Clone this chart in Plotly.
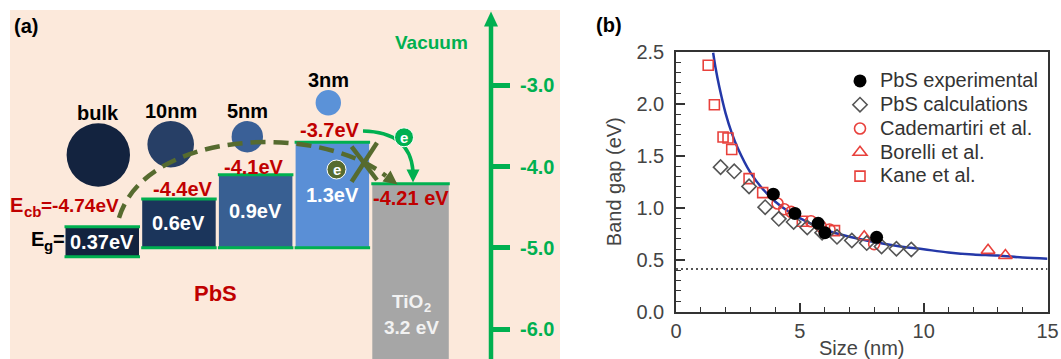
import plotly.graph_objects as go

W, H = 1061, 359
FONT = "Liberation Sans, Arial, sans-serif"

# ---------------- Panel (a) data ----------------
size_labels = ["bulk", "10nm", "5nm", "3nm"]
cb_energy = [-4.74, -4.4, -4.1, -3.7]          # conduction band edge (eV)
band_gap = [0.37, 0.6, 0.9, 1.3]               # band gap (eV)
tio2_cb = -4.21
tio2_gap = 3.2
vac_ticks = [-3.0, -4.0, -5.0, -6.0]
vac_tick_text = ["-3.0", "-4.0", "-5.0", "-6.0"]

# ---------------- Panel (b) data ----------------
exp_size = [3.93, 4.80, 5.74, 6.01, 8.10]
exp_gap = [1.13, 0.945, 0.85, 0.76, 0.715]
calc_size = [1.8, 2.35, 2.95, 3.6, 4.15, 4.75, 5.3, 5.9, 6.5, 7.1, 7.7, 8.3, 8.9, 9.5]
calc_gap = [1.39, 1.35, 1.205, 1.005, 0.893, 0.863, 0.81, 0.76, 0.72, 0.685, 0.66, 0.627, 0.605, 0.598]
cad_size = [4.1, 4.37, 4.65, 5.45, 5.85, 6.2, 8.0]
cad_gap = [1.04, 0.985, 0.96, 0.87, 0.82, 0.79, 0.65]
bor_size = [7.6, 12.6, 13.3]
bor_gap = [0.72, 0.59, 0.54]
kane_size = [1.3, 1.55, 1.9, 2.1, 2.25, 2.95, 3.5, 5.1, 6.4]
kane_gap = [2.37, 1.99, 1.68, 1.67, 1.56, 1.28, 1.145, 0.87, 0.78]
fit_size = [1.5, 1.6, 1.75, 2.0, 2.25, 2.5, 3.0, 3.5, 4.0, 4.5, 5.0, 6.0, 7.0, 8.0,
            9.0, 10.0, 11.0, 12.0, 13.0, 14.0, 15.0]
fit_gap = [2.49, 2.34, 2.16, 1.91, 1.72, 1.57, 1.34, 1.18, 1.06, 0.97, 0.90, 0.79, 0.72, 0.67,
           0.63, 0.60, 0.57, 0.55, 0.54, 0.52, 0.51]
bulk_gap = 0.41
x_ticks_b = [0, 5, 10, 15]

# ---------------- styles ----------------
GREEN = "#00b050"
RED = "#c00000"
OLIVE = "#566b2f"
PEACH = "#fce9db"
box_colors = ["#13233f", "#1b355b", "#385f92", "#5a8fd6"]
circle_colors = ["#13233f", "#273f66", "#3a6097", "#5b92d8"]
circle_centers = [(98.3, 155.0), (170.7, 144.3), (247.3, 136.7), (328.3, 102.7)]
circle_r = [31.7, 23.3, 15.7, 12.7]
box_left0, box_stride, box_w = 65.5, 76.7, 73.5
MRED = "#e8413c"


def py(y):
    return 1 - y / H


def pt(x, y):
    return f"{x:.2f},{py(y):.4f}"


fig = go.Figure()

# invisible anchor trace for panel (a) axes
box_centers = [box_left0 + i * box_stride + box_w / 2 for i in range(len(cb_energy))]
fig.add_trace(go.Scatter(x=box_centers, y=cb_energy, mode="markers",
                         marker=dict(opacity=0), xaxis="x", yaxis="y",
                         showlegend=False, hoverinfo="skip"))

shapes = []
# peach background
shapes.append(dict(type="rect", xref="x", yref="paper", x0=10, x1=560, y0=0, y1=py(10),
                   fillcolor=PEACH, line=dict(width=0), layer="below"))

# nanoparticle circles
for (cx, cy), r, c in zip(circle_centers, circle_r, circle_colors):
    shapes.append(dict(type="circle", xref="x", yref="paper", x0=cx - r, x1=cx + r,
                       y0=py(cy + r), y1=py(cy - r), fillcolor=c, line=dict(width=0)))

# PbS boxes
for i, (cb, eg) in enumerate(zip(cb_energy, band_gap)):
    x0 = box_left0 + i * box_stride
    x1 = x0 + box_w
    shapes.append(dict(type="rect", xref="x", yref="y", x0=x0, x1=x1, y0=cb - eg, y1=cb,
                       fillcolor=box_colors[i], line=dict(width=0)))
    for yy in (cb, cb - eg):
        shapes.append(dict(type="line", xref="x", yref="y", x0=x0 - 1, x1=x1 + 1, y0=yy, y1=yy,
                           line=dict(color=GREEN, width=3)))
# TiO2 box
tx0 = box_left0 + 4 * box_stride
tx1 = tx0 + 76.5
shapes.append(dict(type="rect", xref="x", yref="y", x0=tx0, x1=tx1, y0=tio2_cb - tio2_gap, y1=tio2_cb,
                   fillcolor="#a6a6a6", line=dict(width=0)))
shapes.append(dict(type="line", xref="x", yref="y", x0=tx0 - 1, x1=tx1 + 1, y0=tio2_cb, y1=tio2_cb,
                   line=dict(color=GREEN, width=3)))

# vacuum axis line + arrowhead
shapes.append(dict(type="line", xref="x", yref="paper", x0=491, x1=491, y0=0, y1=py(24),
                   line=dict(color=GREEN, width=4.5)))
shapes.append(dict(type="path", xref="x", yref="paper",
                   path=f"M {pt(491, 11.5)} L {pt(484, 26.5)} L {pt(498, 26.5)} Z",
                   fillcolor=GREEN, line=dict(width=0)))

# dashed olive arc (blocked transfer)
shapes.append(dict(type="path", xref="x", yref="paper",
                   path=f"M {pt(119, 218)} C {pt(145, 130)} {pt(318, 122)} {pt(386, 176)}",
                   line=dict(color=OLIVE, width=4.5, dash="15px,8px")))
shapes.append(dict(type="path", xref="x", yref="paper",
                   path=f"M {pt(397.5, 184.5)} L {pt(382.5, 181.5)} L {pt(390.5, 170.5)} Z",
                   fillcolor=OLIVE, line=dict(width=0)))
# X cross
shapes.append(dict(type="line", xref="x", yref="paper", x0=351.6, y0=py(181.7), x1=377, y1=py(142.7),
                   line=dict(color=OLIVE, width=4.5)))
shapes.append(dict(type="line", xref="x", yref="paper", x0=351.6, y0=py(146.7), x1=377, y1=py(180),
                   line=dict(color=OLIVE, width=4.5)))

# green electron-transfer arrow
shapes.append(dict(type="path", xref="x", yref="paper",
                   path=f"M {pt(363, 131)} Q {pt(410, 132)} {pt(413, 171)}",
                   line=dict(color=GREEN, width=3.5)))
shapes.append(dict(type="path", xref="x", yref="paper",
                   path=f"M {pt(413, 182.5)} L {pt(406.5, 169.5)} L {pt(419.5, 169.5)} Z",
                   fillcolor=GREEN, line=dict(width=0)))
# electron circles
for (cx, cy, c) in [(404, 137.3, GREEN), (336.5, 169.5, OLIVE)]:
    r = 9.5
    shapes.append(dict(type="circle", xref="x", yref="paper", x0=cx - r, x1=cx + r,
                       y0=py(cy + r), y1=py(cy - r), fillcolor=c, line=dict(color="white", width=1)))

annotations = []


def txt(x, y, s, size=20, color="black", bold=True, xanchor="center", xref="x"):
    annotations.append(dict(x=x, y=py(y), xref=xref, yref="paper", text=s, showarrow=False,
                            xanchor=xanchor, yanchor="middle",
                            font=dict(family=FONT, size=size, color=color,
                                      weight="bold" if bold else "normal")))


txt(26, 26, "(a)")
txt(431, 42, "Vacuum", size=19, color=GREEN)
for (cx, cy), r, lab in zip(circle_centers, circle_r, size_labels):
    txt(cx, cy - r - 10 if lab != "bulk" else 113, lab)
cb_label_pos = [(60.5, 206), (182.5, 189.3), (254, 166.7), (329.7, 130)]
for i, ((lx, ly), cb) in enumerate(zip(cb_label_pos, cb_energy)):
    if i == 0:
        # "E" + subscript "cb" + "=value"
        txt(8, 205, "E", color=RED, xanchor="left")
        txt(21.5, 211, "cb", size=15, color=RED, xanchor="left")
        txt(38.5, 205, f"={cb:g}eV", size=19, color=RED, xanchor="left")
    else:
        txt(lx, ly, f"{cb:g}eV", color=RED)
txt(411, 198.3, f"{tio2_cb:g} eV", color=RED)
for i, (cb, eg) in enumerate(zip(cb_energy, band_gap)):
    cy_eV = cb - eg / 2
    annotations.append(dict(x=box_centers[i], y=cy_eV, xref="x", yref="y", text=f"{eg:g}eV",
                            showarrow=False, xanchor="center", yanchor="middle",
                            font=dict(family=FONT, size=20, color="white", weight="bold")))
# "E" + subscript "g" + "="
txt(29, 239, "E", xanchor="left")
txt(42.3, 245, "g", size=15, xanchor="left")
txt(50.5, 239, "=", xanchor="left")
txt(215.5, 293, "PbS", size=22, color=RED)
txt(407, 301, "TiO", size=19, color="#f2f2f2")
txt(422.3, 307, "2", size=13, color="#f2f2f2", xanchor="left")
txt(411, 327, f"{tio2_gap:g} eV", size=19, color="#f2f2f2")
txt(404, 137.8, "e", size=15, color="white")
txt(336.5, 170, "e", size=15, color="white")
txt(609 / W, 25, "(b)", xref="paper")

# ---------------- Panel (b) traces ----------------
fig.add_trace(go.Scatter(x=[0, 15], y=[bulk_gap, bulk_gap], mode="lines", xaxis="x2", yaxis="y2",
                         line=dict(color="#555555", width=2, dash="2px,3px"),
                         showlegend=False, hoverinfo="skip"))
fig.add_trace(go.Scatter(x=fit_size, y=fit_gap, mode="lines", xaxis="x2", yaxis="y2",
                         line=dict(color="#2438a8", width=2.5, shape="spline"),
                         showlegend=False))


def lname(s):
    return f'<span style="font-size:20px">{s}</span>'


fig.add_trace(go.Scatter(x=kane_size, y=kane_gap, mode="markers", xaxis="x2", yaxis="y2",
                         name=lname("Kane et al."), legendrank=5,
                         marker=dict(symbol="square-open", size=10, color=MRED, line=dict(width=1.6))))
fig.add_trace(go.Scatter(x=cad_size, y=cad_gap, mode="markers", xaxis="x2", yaxis="y2",
                         name=lname("Cademartiri et al."), legendrank=3,
                         marker=dict(symbol="circle-open", size=11, color=MRED, line=dict(width=1.6))))
fig.add_trace(go.Scatter(x=bor_size, y=bor_gap, mode="markers", xaxis="x2", yaxis="y2",
                         name=lname("Borelli et al."), legendrank=4,
                         marker=dict(symbol="triangle-up-open", size=12, color=MRED, line=dict(width=1.6))))
fig.add_trace(go.Scatter(x=calc_size, y=calc_gap, mode="markers", xaxis="x2", yaxis="y2",
                         name=lname("PbS calculations"), legendrank=2,
                         marker=dict(symbol="diamond-open", size=11, color="#555555", line=dict(width=1.6))))
fig.add_trace(go.Scatter(x=exp_size, y=exp_gap, mode="markers", xaxis="x2", yaxis="y2",
                         name=lname("PbS experimental"), legendrank=1,
                         marker=dict(symbol="circle", size=13, color="black")))

axis_font = dict(family=FONT, size=20, color="#444444")
fig.update_layout(
    width=W, height=H,
    margin=dict(l=0, r=0, t=0, b=0),
    paper_bgcolor="white",
    plot_bgcolor="rgba(0,0,0,0)",
    shapes=shapes,
    annotations=annotations,
    xaxis=dict(domain=[0, 1], range=[0, W], visible=False, fixedrange=True),
    yaxis=dict(domain=[0, 1], range=[-6.369, -1.948], anchor="free", position=491 / W,
               side="right", showline=False, showgrid=False, zeroline=False,
               ticks="outside", ticklen=18, tickwidth=4.5, tickcolor=GREEN,
               tickvals=vac_ticks, ticktext=vac_tick_text, ticklabelstandoff=6,
               tickfont=dict(family=FONT, size=20, color=GREEN, weight="bold")),
    xaxis2=dict(domain=[676 / W, 1047.5 / W], range=[0, 15], anchor="y2",
                tickvals=x_ticks_b, ticks="inside", ticklen=9, tickwidth=1.5, tickcolor="#333",
                minor=dict(ticks="inside", dtick=1, ticklen=5, tickwidth=1.3, tickcolor="#333"),
                showline=True, linecolor="#333", linewidth=1.5, mirror=True,
                showgrid=False, zeroline=False, tickfont=axis_font, ticklabelstandoff=1,
                title=dict(text="Size (nm)", font=axis_font, standoff=6), automargin=False),
    yaxis2=dict(domain=[1 - 311.7 / H, 1 - 51.7 / H], range=[0, 2.5], anchor="x2",
                dtick=0.5, tickformat=".1f", ticks="inside", ticklen=9, tickwidth=1.5, tickcolor="#333",
                minor=dict(ticks="inside", dtick=0.1, ticklen=5, tickwidth=1.3, tickcolor="#333"),
                showline=True, linecolor="#333", linewidth=1.5, mirror=True,
                showgrid=False, zeroline=False, tickfont=axis_font, ticklabelstandoff=6,
                title=dict(text="Band gap (eV)", font=axis_font, standoff=9), automargin=False),
    legend=dict(x=840 / W, y=py(64), xanchor="left", yanchor="top",
                font=dict(family=FONT, size=16, color="#333333"),
                bgcolor="rgba(0,0,0,0)", itemwidth=30, tracegroupgap=0),
    showlegend=True,
)

fig.write_html("out.html", config={"displayModeBar": False},
               post_script="document.body.style.margin='0';")
